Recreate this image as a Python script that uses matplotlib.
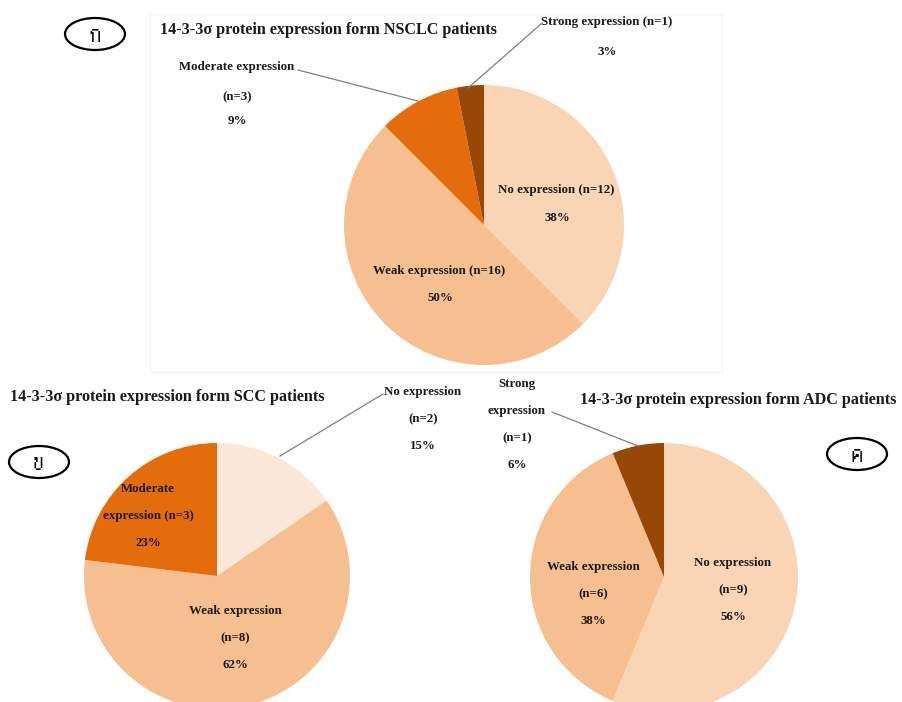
import matplotlib
matplotlib.use("Agg")
import matplotlib.pyplot as plt
from matplotlib import font_manager
from matplotlib.ft2font import FT2Font
from matplotlib.patches import Ellipse, Rectangle

# ----------------
# DATA
# ----------------
nsclc_labels = ["No expression", "Weak expression", "Moderate expression", "Strong expression"]
nsclc_n = [12, 16, 3, 1]
nsclc_pct = [38, 50, 9, 3]

scc_labels = ["No expression", "Weak expression", "Moderate expression"]
scc_n = [2, 8, 3]
scc_pct = [15, 62, 23]

adc_labels = ["No expression", "Weak expression", "Strong expression"]
adc_n = [9, 6, 1]
adc_pct = [56, 38, 6]

titles = [
    "14-3-3\u03c3 protein expression form NSCLC patients",
    "14-3-3\u03c3 protein expression form SCC patients",
    "14-3-3\u03c3 protein expression form ADC patients",
]
panel_tags = ["\u0e01", "\u0e02", "\u0e04"]

C_NO = "#f9d5b5"
C_NO_SCC = "#fce8d9"
C_WEAK = "#f6bf8f"
C_MOD = "#e46c0a"
C_STRONG = "#974806"

# ----------------
# FONTS
# ----------------
thai_font = None
for path in font_manager.findSystemFonts():
    try:
        if 0x0E01 in FT2Font(path).get_charmap():
            thai_font = font_manager.FontProperties(fname=path)
            break
    except Exception:
        pass

SERIF = "Liberation Serif"
H = 702
LBL = 9.3
TTL = 11.6

fig = plt.figure(figsize=(9.02, 7.02), dpi=100)
ax = fig.add_axes([0, 0, 1, 1])
ax.set_xlim(0, 902)
ax.set_ylim(0, H)
ax.axis("off")


def txt(x, y, s, size=LBL, ha="center"):
    ax.text(x, H - y, s, fontsize=size, fontweight="bold", family=SERIF,
            ha=ha, va="center", color="#1a1a1a")


def leader(x0, y0, x1, y1):
    ax.plot([x0, x1], [H - y0, H - y1], color="#7f7f7f", lw=0.9)


def tag(x, y, s):
    ax.add_patch(Ellipse((x, H - y), 60, 32, fill=False, lw=1.6, ec="black"))
    if thai_font is not None:
        fp = thai_font.copy()
        fp.set_size(18)
        ax.text(x, H - y, s, fontproperties=fp, ha="center", va="center")
    else:
        ax.text(x, H - y, s, fontsize=18, ha="center", va="center")


# faint panel frame of the top chart
ax.add_patch(Rectangle((150, H - 372), 572, 357, fill=False, ec="#f3f3f3", lw=0.8))

# ----------------
# NSCLC
# ----------------
ax.pie(nsclc_n, colors=[C_NO, C_WEAK, C_MOD, C_STRONG], startangle=90,
       counterclock=False, center=(484, H - 225), radius=140,
       wedgeprops=dict(linewidth=0))
txt(160, 30, titles[0], size=TTL, ha="left")
txt(556, 190, f"{nsclc_labels[0]} (n={nsclc_n[0]})")
txt(557, 218, f"{nsclc_pct[0]}%")
txt(439, 271, f"{nsclc_labels[1]} (n={nsclc_n[1]})")
txt(440, 298, f"{nsclc_pct[1]}%")
txt(237, 67, nsclc_labels[2])
txt(237, 97, f"(n={nsclc_n[2]})")
txt(237, 121, f"{nsclc_pct[2]}%")
leader(298, 70, 418, 101)
txt(607, 22, f"{nsclc_labels[3]} (n={nsclc_n[3]})")
txt(607, 52, f"{nsclc_pct[3]}%")
leader(541, 24, 468, 88)
tag(95, 34, panel_tags[0])

# ----------------
# SCC
# ----------------
ax.pie(scc_n, colors=[C_NO_SCC, C_WEAK, C_MOD], startangle=90,
       counterclock=False, center=(217, H - 576), radius=133,
       wedgeprops=dict(linewidth=0))
txt(10, 397, titles[1], size=TTL, ha="left")
txt(423, 392, scc_labels[0])
txt(423, 419, f"(n={scc_n[0]})")
txt(423, 446, f"{scc_pct[0]}%")
leader(383, 394, 280, 456)
txt(235, 611, scc_labels[1])
txt(235, 638, f"(n={scc_n[1]})")
txt(235, 665, f"{scc_pct[1]}%")
mod1, mod2 = scc_labels[2].split(" ")
txt(148, 489, mod1)
txt(148, 516, f"{mod2} (n={scc_n[2]})")
txt(148, 543, f"{scc_pct[2]}%")
tag(39, 462, panel_tags[1])

# ----------------
# ADC
# ----------------
ax.pie(adc_n, colors=[C_NO, C_WEAK, C_STRONG], startangle=90,
       counterclock=False, center=(664, H - 577), radius=134,
       wedgeprops=dict(linewidth=0))
txt(580, 400, titles[2], size=TTL, ha="left")
txt(733, 563, adc_labels[0])
txt(733, 590, f"(n={adc_n[0]})")
txt(733, 617, f"{adc_pct[0]}%")
txt(593, 567, adc_labels[1])
txt(593, 594, f"(n={adc_n[1]})")
txt(593, 621, f"{adc_pct[1]}%")
s1, s2 = adc_labels[2].split(" ")
txt(517, 384, s1)
txt(517, 411, s2)
txt(517, 438, f"(n={adc_n[2]})")
txt(517, 465, f"{adc_pct[2]}%")
leader(552, 412, 638, 446)
tag(857, 454, panel_tags[2])

ax.set_xlim(0, 902)
ax.set_ylim(0, H)
ax.set_aspect("auto")

fig.savefig("out.png", dpi=100)
